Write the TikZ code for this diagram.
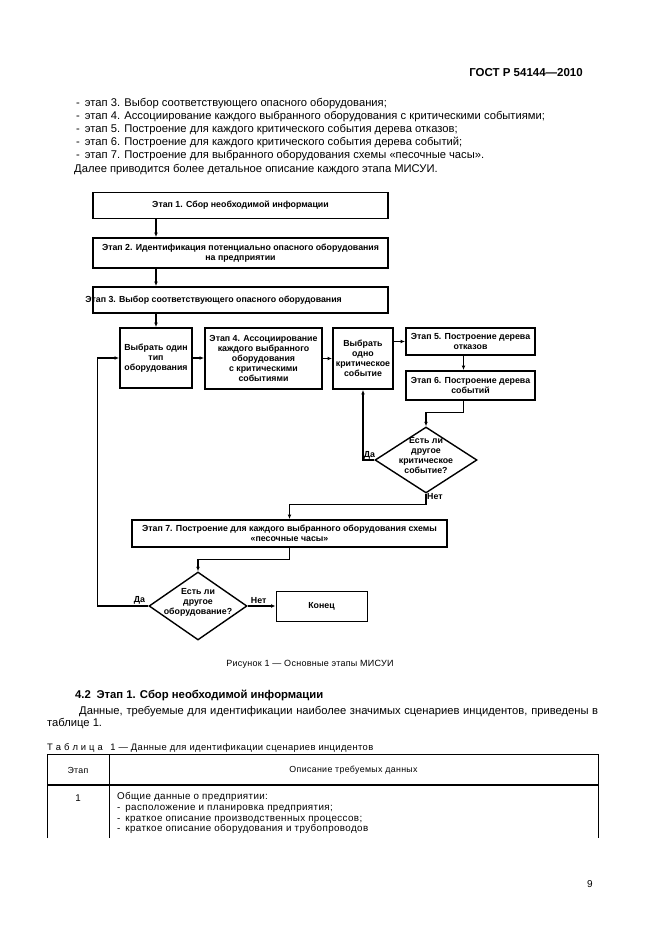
\documentclass[tikz,border=0pt]{standalone}
\usepackage{fontspec}
\setmainfont{Liberation Sans}
\usetikzlibrary{shapes.geometric,arrows.meta}

\begin{document}
\begin{tikzpicture}[x=1pt,y=-1pt,
		stage/.style={draw, line width=1.8pt, inner sep=0pt, align=center, font=\fontsize{8.8}{10}\selectfont\bfseries},
		decision/.style={draw, diamond, line width=1.4pt, inner sep=0pt},
		lab/.style={inner sep=0pt, font=\fontsize{8.8}{10}\selectfont\bfseries},
		arr/.style={line width=1.1pt, -{Latex[length=4.5pt,width=3.8pt]}},
		body/.style={anchor=base west, inner sep=0pt, font=\fontsize{11.2}{13}\selectfont},
		small/.style={inner sep=0pt, font=\fontsize{9.4}{10.5}\selectfont\addfontfeature{LetterSpace=4}}
	]
	\fill[white] (0,0) rectangle (661,936);
	\useasboundingbox (0,0) rectangle (661,936);

	\node[body, anchor=base east, font=\fontsize{11.5}{13}\selectfont\bfseries] (gost) at (583,77) {ГОСТ Р 54144—2010};
	\node[body] (punkt3) at (76,107) {-\hspace{0.45em}этап 3. Выбор соответствующего опасного оборудования;};
	\node[body] (punkt4) at (76,120) {-\hspace{0.45em}этап 4. Ассоциирование каждого выбранного оборудования с критическими событиями;};
	\node[body] (punkt5) at (76,133) {-\hspace{0.45em}этап 5. Построение для каждого критического события дерева отказов;};
	\node[body] (punkt6) at (76,146) {-\hspace{0.45em}этап 6. Построение для каждого критического события дерева событий;};
	\node[body] (punkt7) at (76,159) {-\hspace{0.45em}этап 7. Построение для выбранного оборудования схемы «песочные часы».};
	\node[body] (dalee) at (74,172) {Далее приводится более детальное описание каждого этапа МИСУИ.};

	\node[stage, minimum width=295pt, minimum height=26pt] (etap1) at (240.5,205.5) {Этап 1. Сбор необходимой информации};
	\node[stage, minimum width=295pt, minimum height=30pt] (etap2) at (240.5,253) {Этап 2. Идентификация потенциально опасного оборудования\\на предприятии};
	\node[stage, minimum width=295pt, minimum height=26pt] (etap3) at (240.5,300) {};
	\node[lab, anchor=west] (etap3t) at ([xshift=-7pt]etap3.west) {Этап 3. Выбор соответствующего опасного оборудования};
	\node[stage, minimum width=72pt, minimum height=60pt] (vybor1) at (156,358) {Выбрать один\\тип\\оборудования};
	\node[stage, minimum width=117pt, minimum height=61pt] (etap4) at (263.5,358.5) {Этап 4. Ассоциирование\\каждого выбранного\\оборудования\\с критическими\\событиями};
	\node[stage, minimum width=60pt, minimum height=61pt] (vybor2) at (363,358.5) {Выбрать\\одно\\критическое\\событие};
	\node[stage, minimum width=129pt, minimum height=27pt] (etap5) at (470.5,341.5) {Этап 5. Построение дерева\\отказов};
	\node[stage, minimum width=129pt, minimum height=29pt] (etap6) at (470.5,385.5) {Этап 6. Построение дерева\\событий};
	\node[decision, minimum width=102pt, minimum height=66pt,
		label={[lab, align=center, yshift=4pt]center:{Есть ли\\другое\\критическое\\событие?}}] (esli1) at (426,460) {};
	\node[stage, minimum width=315pt, minimum height=27pt] (etap7) at (289.5,533.5) {Этап 7. Построение для каждого выбранного оборудования схемы\\«песочные часы»};
	\node[decision, minimum width=98pt, minimum height=68pt,
		label={[lab, align=center, yshift=4pt]center:{Есть ли\\другое\\оборудование?}}] (esli2) at (198,606) {};
	\node[stage, line width=1pt, minimum width=91pt, minimum height=30pt] (konec) at (321.5,606) {Конец};

	\draw[arr] (etap1.south -| vybor1) -- (etap2.north -| vybor1);
	\draw[arr] (etap2.south -| vybor1) -- (etap3.north -| vybor1);
	\draw[arr] (etap3.south -| vybor1) -- (vybor1.north);
	\draw[arr] (vybor1.east) -- (vybor1.east -| etap4.west);
	\draw[arr] (etap4.east) -- (etap4.east -| vybor2.west);
	\draw[arr] (etap5.west -| vybor2.east) -- (etap5.west);
	\draw[arr] ([xshift=-7pt]etap5.south) -- ([xshift=-7pt]etap6.north);
	\draw[arr] ([xshift=-7pt]etap6.south) -- ++(0,12) -| (esli1.north);
	\draw[arr] (esli1.west) -| (vybor2.south);
	\node[lab, anchor=south east] (da1) at ([xshift=1pt,yshift=1pt]esli1.west) {Да};
	\draw[arr] (esli1.south) -- ++(0,11) -| (etap7.north);
	\node[lab, anchor=north west] (net1) at ([xshift=1pt]esli1.south) {Нет};
	\draw[arr] (etap7.south) -- ++(0,12) -| (esli2.north);
	\draw[arr] (esli2.east) -- (konec.west);
	\node[lab, anchor=south west] (net2) at ([xshift=3pt,yshift=2pt]esli2.east) {Нет};
	\draw[arr] (esli2.west) -- ++(-51,0) |- (vybor1.west);
	\node[lab, anchor=south east] (da2) at ([xshift=-3pt,yshift=2pt]esli2.west) {Да};

	\node[small, font=\fontsize{9}{10}\selectfont\addfontfeature{LetterSpace=3}] (ris) at (310,664) {Рисунок 1 — Основные этапы МИСУИ};

	\node[body, font=\fontsize{11.3}{13}\selectfont\bfseries] (razdel) at (75,698) {4.2\hspace{0.5em}Этап 1. Сбор необходимой информации};
	\node[body] (dannye) at (79,714) {\makebox[519pt][s]{Данные, требуемые для идентификации наиболее значимых сценариев инцидентов, приведены в}};
	\node[body] (tabl) at (47,726) {таблице 1.};
	\node[small, anchor=base west] (tablcap) at (47,750) {Т а б л и ц а\hspace{0.8em}1 — Данные для идентификации сценариев инцидентов};

	\draw[line width=0.8pt] (47,838) -- (47,754) -- (598,754) -- (598,838);
	\draw[line width=0.8pt] (109,754) -- (109,838);
	\draw[line width=1.6pt] (47,785) -- (598,785);
	\node[small, font=\fontsize{8.8}{10}\selectfont\addfontfeature{LetterSpace=4}] (kol1) at (78,770) {Этап};
	\node[small, font=\fontsize{8.8}{10}\selectfont\addfontfeature{LetterSpace=4}] (kol2) at (353.5,770) {Описание требуемых данных};
	\node[small, font=\fontsize{9.8}{10.7}\selectfont\addfontfeature{LetterSpace=4}] (nom1) at (78,798) {1};
	\node[small, font=\fontsize{9.8}{10.7}\selectfont\addfontfeature{LetterSpace=4}, anchor=north west, align=left] (opis1) at (117,792.5) {Общие данные о предприятии:\\-\hspace{0.5em}расположение и планировка предприятия;\\-\hspace{0.5em}краткое описание производственных процессов;\\-\hspace{0.5em}краткое описание оборудования и трубопроводов};

	\node[body, font=\fontsize{10}{12}\selectfont] (str) at (587,887) {9};
\end{tikzpicture}
\end{document}
